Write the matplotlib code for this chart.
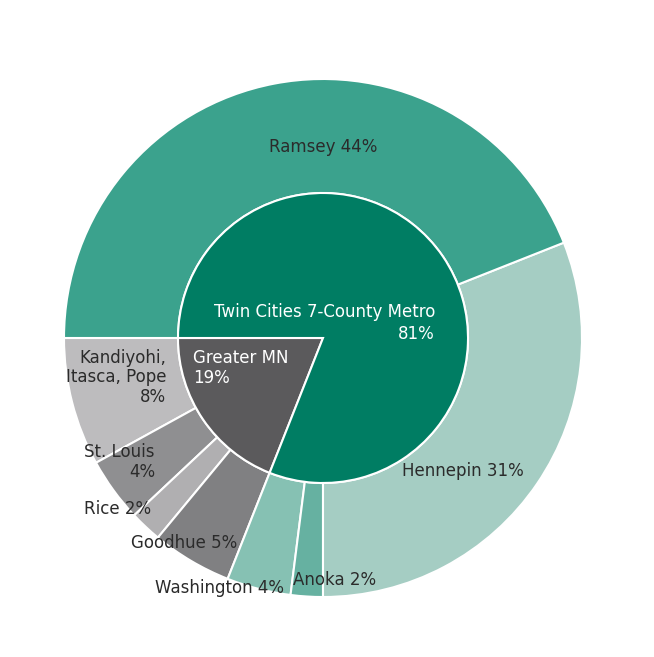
import matplotlib
matplotlib.use("Agg")
import matplotlib.pyplot as plt

inner_labels = ["Greater MN", "Twin Cities 7-County Metro"]
inner_values = [19, 81]
inner_colors = ["#5b5a5c", "#007d63"]

outer_labels = ["Kandiyohi,\nItasca, Pope", "St. Louis", "Rice", "Goodhue",
                "Washington", "Anoka", "Hennepin", "Ramsey"]
outer_values = [8, 4, 2, 5, 4, 2, 31, 44]
outer_colors = ["#bdbcbe", "#8f8f91", "#b0afb1", "#808082",
                "#86c1b3", "#66b1a1", "#a5cdc3", "#3ba28d"]

fig = plt.figure(figsize=(6.54, 6.57), dpi=100)
ax = fig.add_axes([64/654, 60/657, 518/654, 518/657])
ax.set_xlim(-1, 1); ax.set_ylim(-1, 1); ax.axis("off")

R_in = 145/259
ax.pie(outer_values, radius=1.0, colors=outer_colors, startangle=180,
       counterclock=True, wedgeprops=dict(width=1-R_in, edgecolor="white", linewidth=1.5))
ax.pie(inner_values, radius=R_in, colors=inner_colors, startangle=180,
       counterclock=True, wedgeprops=dict(edgecolor="white", linewidth=1.5))
ax.set_xlim(-1, 1); ax.set_ylim(-1, 1)

fs = 12
dark = "#2b2b2b"
ax.text(0, 0.737, f"{outer_labels[7]} {outer_values[7]}%", ha="center", va="center", fontsize=fs, color=dark)
ax.text(0.541, -0.514, f"{outer_labels[6]} {outer_values[6]}%", ha="center", va="center", fontsize=fs, color=dark)
ax.text(-0.116, -0.934, f"{outer_labels[5]} {outer_values[5]}%", ha="left", va="center", fontsize=fs, color=dark)
ax.text(-0.151, -0.965, f"{outer_labels[4]} {outer_values[4]}%", ha="right", va="center", fontsize=fs, color=dark)
ax.text(-0.332, -0.792, f"{outer_labels[3]} {outer_values[3]}%", ha="right", va="center", fontsize=fs, color=dark)
ax.text(-0.664, -0.660, f"{outer_labels[2]} {outer_values[2]}%", ha="right", va="center", fontsize=fs, color=dark)
ax.text(-0.649, -0.479, f"{outer_labels[1]}\n{outer_values[1]}%", ha="right", va="center", multialignment="right", fontsize=fs, color=dark, linespacing=1.1)
ax.text(-0.606, -0.151, f"{outer_labels[0]}\n{outer_values[0]}%", ha="right", va="center", multialignment="right", fontsize=fs, color=dark, linespacing=1.1)
ax.text(0.432, 0.058, f"{inner_labels[1]}\n{inner_values[1]}%", ha="right", va="center", multialignment="right", fontsize=fs, color="white", linespacing=1.3)
ax.text(-0.502, -0.116, f"{inner_labels[0]}\n{inner_values[0]}%", ha="left", va="center", multialignment="left", fontsize=fs, color="white", linespacing=1.2)

fig.savefig("out.png", dpi=100, facecolor="white")
